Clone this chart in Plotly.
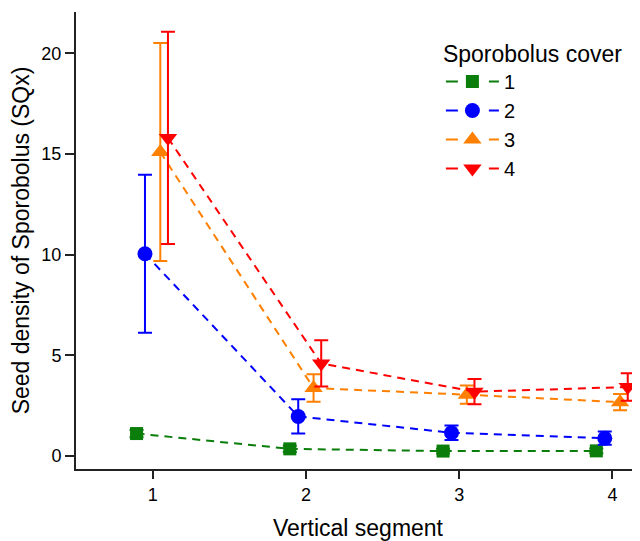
import plotly.graph_objects as go

segments = [1, 2, 3, 4]
cover_levels = ["1", "2", "3", "4"]

mean_cover1 = [1.12, 0.36, 0.25, 0.26]
se_cover1 = [0.18, 0.15, 0.12, 0.12]
mean_cover2 = [10.05, 1.97, 1.16, 0.89]
se_cover2 = [3.92, 0.85, 0.36, 0.33]
mean_cover3 = [15.1, 3.38, 3.05, 2.68]
se_cover3 = [5.41, 0.68, 0.45, 0.40]
mean_cover4 = [15.8, 4.6, 3.2, 3.43]
se_cover4 = [5.27, 1.15, 0.63, 0.68]

y_ticks = [0, 5, 10, 15, 20]
x_ticks = [1, 2, 3, 4]

means = [mean_cover1, mean_cover2, mean_cover3, mean_cover4]
ses = [se_cover1, se_cover2, se_cover3, se_cover4]
colors = ["#0A7D0A", "#0000FF", "#FF8000", "#FF0000"]
symbols = ["square", "circle", "triangle-up", "triangle-down"]
sizes = [13, 15, 16, 16]
dodge = [-0.105, -0.05, 0.05, 0.1]

fig = go.Figure()
for lvl, m, s, c, sym, sz, d in zip(cover_levels, means, ses, colors, symbols, sizes, dodge):
    fig.add_trace(go.Scatter(
        x=[seg + d for seg in segments], y=m, name=lvl,
        mode="lines+markers", showlegend=False, legendgroup=lvl,
        line=dict(color=c, width=2, dash="8px,6px"),
        marker=dict(symbol=sym, size=sz, color=c),
        error_y=dict(type="data", array=s, visible=True, color=c, thickness=2, width=7),
        cliponaxis=False,
    ))
# legend-only entries (dash pattern tuned for the legend glyph)
for lvl, c, sym, sz in zip(cover_levels, colors, symbols, sizes):
    fig.add_trace(go.Scatter(
        x=[None], y=[None], name=lvl, legendgroup=lvl,
        mode="lines+markers",
        line=dict(color=c, width=2, dash="12px,31px"),
        marker=dict(symbol=sym, size=sz, color=c),
    ))

fig.update_layout(
    width=632, height=533,
    margin=dict(l=68, r=0, t=4, b=72),
    paper_bgcolor="white", plot_bgcolor="white",
    font=dict(family="Liberation Sans, Arial, sans-serif", color="black", size=18),
    showlegend=True,
    legend=dict(
        title=dict(text="Sporobolus cover", font=dict(size=23)),
        font=dict(size=20),
        x=0.647, y=0.956, xanchor="left", yanchor="top",
        bgcolor="rgba(0,0,0,0)", tracegroupgap=0, itemwidth=53,
    ),
)
fig.update_xaxes(
    range=[0.5, 4.18], tickvals=x_ticks, ticktext=[str(t) for t in x_ticks],
    showline=True, linecolor="#222", linewidth=2, ticks="outside", ticklen=8,
    tickwidth=2, tickcolor="#222", showgrid=False, zeroline=False,
    title=dict(text="Vertical segment", font=dict(size=23), standoff=16),
    tickfont=dict(size=18),
)
fig.update_yaxes(
    range=[-0.64, 22.05], tickvals=y_ticks,
    showline=True, linecolor="#222", linewidth=2, ticks="outside", ticklen=9,
    tickwidth=2, tickcolor="#222", showgrid=False, zeroline=False,
    title=dict(text="Seed density of Sporobolus (SQx)", font=dict(size=23), standoff=6),
    tickfont=dict(size=18),
)

fig.write_html("out.html")
